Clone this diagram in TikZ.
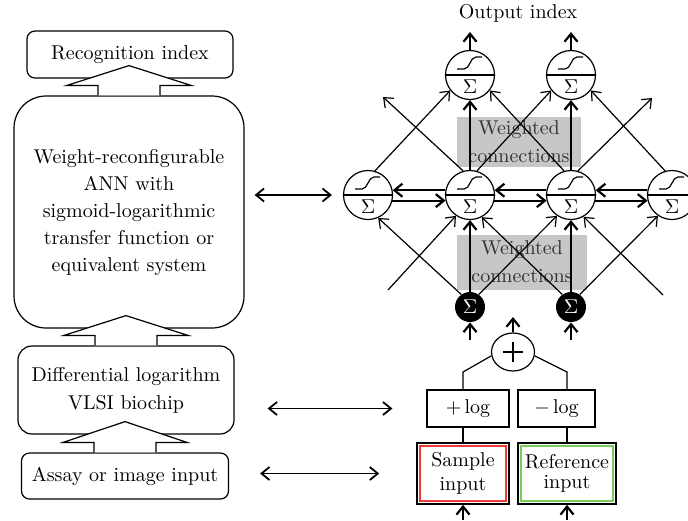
\documentclass[tikz,border=0pt]{standalone}
\usetikzlibrary{arrows.meta,calc,shapes.geometric}
\definecolor{samplered}{RGB}{235,60,60}
\definecolor{refgreen}{RGB}{120,205,90}

\tikzset{
  >={Straight Barb[length=4pt,width=6.5pt]},
  lbox/.style={draw,align=center,line width=0.6pt},
  neuron/.style={draw,circle,minimum size=24.5pt,inner sep=0pt,line width=0.6pt},
  blacksum/.style={circle,fill=black,text=white,minimum size=15pt,inner sep=0pt},
  weights/.style={fill=black!22,text=black!80,align=center,inner sep=0pt},
  logbox/.style={draw,minimum height=18.5pt,line width=0.6pt},
  inbox/.style={draw,minimum height=30.5pt,align=center,line width=0.8pt},
  conn/.style={->,line width=0.6pt},
  heavy/.style={->,line width=1.1pt},
}

% divider, sigmoid and sum sign inside a neuron
\newcommand{\neuroninside}[1]{
  \draw[line width=1.1pt] (#1.west) -- (#1.east);
  \draw[line width=0.6pt] ($(#1)+(-13,-6)$) -- ($(#1)+(-6,-6)$) .. controls ($(#1)+(0,-6)$) and ($(#1)+(0,-18)$) .. ($(#1)+(6,-18)$) -- ($(#1)+(12,-18)$);
  \node at ($(#1)+(0,12)$) {$\Sigma$};
}
% hollow arrow from box #1 up into box #2
\newcommand{\blockarrow}[2]{
  \draw[fill=white,line width=0.6pt] ($(#1.north)+(-31,0)$) -- ++(0,-10) -- ++(-31,0)
    -- ($(#1.north |- #2.south)+(0,-13)$) -- ($(#1.north)+(62,-10)$) -- ++(-31,0) -- ++(0,10);
}

\begin{document}
\begin{tikzpicture}[x=0.5pt,y=-0.5pt]
\clip (0,0) rectangle (688,520);

\node[lbox,minimum width=103pt,minimum height=23.5pt,rounded corners=4pt] (rec) at (130,54.5) {Recognition index};
\node[lbox,minimum width=115pt,minimum height=116pt,rounded corners=16pt] (ann) at (129,212)
  {Weight-reconfigurable\\[1.5pt]ANN with\\[1.5pt]sigmoid-logarithmic\\[1.5pt]transfer function or\\[1.5pt]equivalent system};
\node[lbox,minimum width=108pt,minimum height=44pt,rounded corners=7pt] (diff) at (126,390) {Differential logarithm\\[2pt]VLSI biochip};
\node[lbox,minimum width=103.5pt,minimum height=23pt,rounded corners=4pt] (assay) at (125,476) {Assay or image input};
\blockarrow{ann}{rec}
\blockarrow{diff}{ann}
\blockarrow{assay}{diff}

\node[weights,minimum width=62pt,minimum height=25pt] (w1) at (519,142) {Weighted\\[2pt]connections};
\node[weights,minimum width=65pt,minimum height=27.5pt] (w2) at (522,262) {Weighted\\[2pt]connections};

\node[neuron] (n1) at (368,195) {};
\node[neuron] (n2) at (470,195) {};
\node[neuron] (n3) at (571,195) {};
\node[neuron] (n4) at (672,195) {};
\node[neuron] (o2) at (470,75) {};
\node[neuron] (o3) at (571,75) {};
\foreach \n in {n1,n2,n3,n4,o2,o3} {\neuroninside{\n}}
\node[blacksum] (s2) at (470,307) {$\Sigma$};
\node[blacksum] (s3) at (571,307) {$\Sigma$};
\node[draw,ellipse,minimum width=21.5pt,minimum height=19pt,inner sep=0pt,line width=0.6pt] (plus) at (513,352) {};
\draw[line width=0.6pt] ($(plus)+(-10,0)$) -- ($(plus)+(10,0)$) ($(plus)+(0,-10)$) -- ($(plus)+(0,10)$);

\node[logbox,minimum width=41pt] (poslog) at (468,408.5) {$+\,$log};
\node[logbox,minimum width=38.5pt] (neglog) at (556.5,408.5) {$-\,$log};
\node[inbox,minimum width=46pt] (sample) at (463,473.5) {Sample\\input};
\node[inbox,minimum width=49pt] (refin) at (567,473.5) {Reference\\[-2pt]input};
\draw[samplered,line width=0.9pt] ($(sample.south west)+(4,-4)$) rectangle ($(sample.north east)+(-4,4)$);
\draw[refgreen,line width=0.9pt] ($(refin.south west)+(4,-4)$) rectangle ($(refin.north east)+(-4,4)$);

\node (outlabel) at (518,13) {Output index};
\coordinate (out2) at (470,32);
\coordinate (out3) at (571,32);
\coordinate (o1tip) at (383,97);
\coordinate (o4tip) at (652,98);
\coordinate (in1) at (388,290);
\coordinate (in4) at (663,295);
\coordinate (ins2) at (470,340);
\coordinate (ins3) at (571,340);
\coordinate (plusout) at (513,317);
\coordinate (kl) at (463,372);
\coordinate (kr) at (567,372);
\coordinate (samplein) at (463,520);
\coordinate (refinin) at (567,520);

% hidden layer to output layer
\draw[heavy] (o2) -- (out2);
\draw[heavy] (o3) -- (out3);
\draw[conn] (n1.74) -- (o2.218);
\draw[conn] (n2.106) -- (o1tip);
\draw[heavy] (n2) -- (o2);
\draw[conn] (n2.74) -- (o3.218);
\draw[conn] (n3.106) -- (o2.322);
\draw[heavy] (n3) -- (o3);
\draw[conn] (n3.74) -- (o4tip);
\draw[conn] (n4.106) -- (o3.322);
\foreach \a/\b in {n1/n2,n2/n3,n3/n4} {
  \draw[heavy] (\b.169) -- (\a.11);
  \draw[heavy] (\a.-13) -- (\b.193);
}

% input sums to hidden layer
\draw[conn] (in1) -- (n2.236);
\draw[conn] (s2.125) -- (n1.294);
\draw[heavy] (s2) -- (n2);
\draw[conn] (s2.55) -- (n3.236);
\draw[conn] (s3.125) -- (n2.298);
\draw[heavy] (s3) -- (n3);
\draw[conn] (s3.55) -- (n4.236);
\draw[conn] (in4) -- (n3.300);
\draw[heavy] (ins2) -- (s2);
\draw[heavy] (ins3) -- (s3);

\draw[heavy] (plus) -- (plusout);
\draw[line width=0.6pt] (plus.190) -- (kl) -- (kl |- poslog.north);
\draw[line width=0.6pt] (plus.-10) -- (kr) -- (kr |- neglog.north);
\draw[line width=0.6pt] (poslog.south -| sample.north) -- (sample.north);
\draw[line width=0.6pt] (neglog.south -| refin.north) -- (refin.north);
\draw[heavy] (samplein) -- (sample);
\draw[heavy] (refinin) -- (refin);

\draw[<->,line width=0.9pt] ($(ann.east |- n1.west)+(10,0)$) -- ($(n1.west)+(-11,0)$);
\draw[<->,line width=0.9pt] ($(diff.east |- poslog.west)+(33,0)$) -- ($(poslog.west)+(-34,0)$);
\draw[<->,line width=0.9pt] ($(assay.east |- sample.west)+(31,0)$) -- ($(sample.west)+(-37,0)$);
\end{tikzpicture}
\end{document}
